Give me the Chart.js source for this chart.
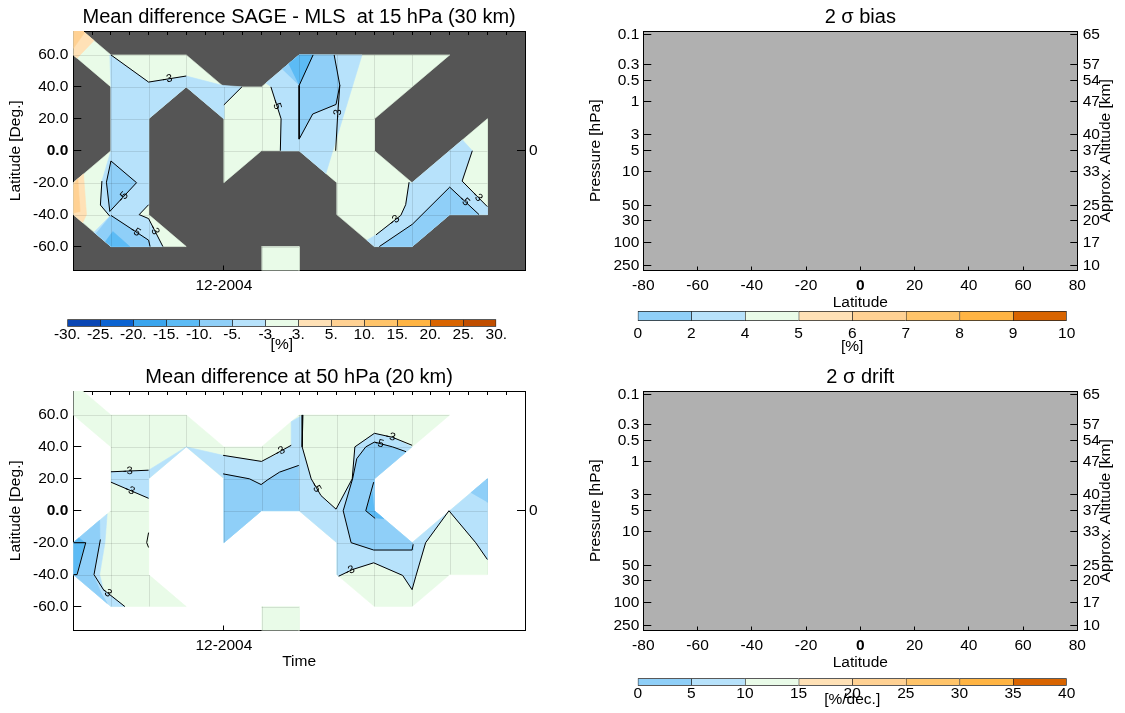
<!DOCTYPE html>
<html>
<head>
<meta charset="utf-8">
<title>SAGE - MLS mean difference</title>
<script src="https://cdn.jsdelivr.net/npm/chart.js@4/dist/chart.umd.min.js"></script>
<style>
  body { margin: 0; background: #fff; width: 1125px; height: 713px; overflow: hidden; position: relative; }
  canvas { position: absolute; }
</style>
</head>
<body>
<canvas id="map15" width="560" height="300" style="left:0px;top:0px"></canvas>
<canvas id="bar15" width="560" height="60" style="left:0px;top:300px"></canvas>
<canvas id="map50" width="560" height="313" style="left:0px;top:360px"></canvas>
<canvas id="bias" width="565" height="315" style="left:560px;top:0px"></canvas>
<canvas id="barBias" width="565" height="60" style="left:560px;top:300px"></canvas>
<canvas id="drift" width="565" height="315" style="left:560px;top:360px"></canvas>
<canvas id="barDrift" width="565" height="48" style="left:560px;top:665px"></canvas>
<script>
// ---- axes ----
// time axis = monthly bins (0..12), only Dec 2004 gets a label
const monthTicks = [4];
const monthLabels = ['12-2004'];
const halfMonthTicks = [0, 0.5, 1, 1.5, 2, 2.5, 3, 3.5, 4, 4.5, 5, 5.5, 6, 6.5, 7, 7.5, 8, 8.5, 9, 9.5, 10, 10.5, 11, 11.5, 12];
const latTicks = [-60, -40, -20, 0, 20, 40, 60];
const latRightTicks = [0];

const latitudeTicks = [-80, -60, -40, -20, 0, 20, 40, 60, 80];
// vertical axis of the sigma panels, positions (~log10 hPa)
const pressureTickPos = [-1.0, -0.56, -0.32, 0.0, 0.5, 0.73, 1.05, 1.56, 1.79, 2.11, 2.46];
const pressureLabels = ['0.1', '0.3', '0.5', '1', '3', '5', '10', '50', '30', '100', '250'];
const altitudeLabels = ['65', '57', '54', '47', '40', '37', '33', '25', '20', '17', '10'];

// colour bar levels
const diffLevels = ['-30.', '-25.', '-20.', '-15.', '-10.', '-5.', '-3', '3.', '5.', '10.', '15.', '20.', '25.', '30.'];
const biasLevels = ['0', '2', '4', '5', '6', '7', '8', '9', '10'];
const driftLevels = ['0', '5', '10', '15', '20', '25', '30', '35', '40'];

// ---- coincidence coverage, [time bin, latitude] (same at both levels) ----
const coverage = [[0, 80], [1, 60], [3, 60], [4, 40], [5, 40], [6, 60], [10, 60], [8, 20], [8, 0], [9, -20], [11, 20], [11, -40],
  [10, -40], [9, -60], [8, -60], [7, -40], [7, -20], [6, 0], [5, 0], [4, -20], [4, 20], [3, 40], [2, 20], [2, -40], [3, -60],
  [1, -60], [0, -40], [0, -20], [1, 0], [1, 40], [0, 60]];
const coverageBox = [[5, -60], [6, -60], [6, -80], [5, -80]];

// ---- 15 hPa mean difference bands (%) ----
const d15Pos3to5 = [
  [[0, 80], [0.55, 69], [0.1, 58], [0, 60]],
  [[0, -20], [0.27, -14.6], [0.35, -40], [0.25, -45], [0, -40]]
];
const d15Pos5to10 = [
  [[0, 80], [0.3, 74], [0, 64]],
  [[0, -22], [0.12, -17.6], [0.18, -38], [0, -39]]
];
const d15Neg3to5 = [
  [[1, 60], [2, 43], [3, 46.8], [3.95, 41], [4.48, 40], [4, 28.7], [4, 20], [3, 40], [2, 20], [2, -33.8], [1.75, -40], [2, -42.5],
    [2.38, -60], [1, -60], [0.55, -51], [0.97, -41], [0.72, -34], [0.76, -19], [1, 0], [1, 40], [0.97, 60]],
  [[5.11, 42.2], [5.72, 54.4], [6, 60], [7.67, 60], [6.71, -14.2], [6, 0], [5.5, 0], [5.52, 20], [5.25, 40]],
  [[9, -20], [10.34, 6.8], [10.6, 0], [10.33, -19], [11, -35], [11, -40], [10, -40], [9, -60], [8, -60], [7.8, -56], [8.04, -52.7],
    [8.7, -40.5], [8.83, -33.8], [8.92, -19.7]]
];
const d15Neg5to10 = [
  [[1, -6.4], [1.68, -20], [0.97, -38], [0.88, -19.7]],
  [[0.6, -52], [1, -40.5], [2, -56], [2.04, -60], [1, -60]],
  [[5.55, 51], [6, 60], [6.93, 60], [7.08, 41], [6.98, 29], [6.36, 23], [6, 7.3], [6, 40.9]],
  [[8.13, -60], [9, -60], [10, -40], [10.78, -40], [10, -22.8], [9.01, -46]]
];
const d15Neg10to15 = [
  [[0.85, -57], [1.05, -50.6], [1.5, -60], [1, -60]],
  [[5.72, 54.4], [6, 60], [6.37, 60], [6, 40.9]]
];
const d15Contours = [
  [[1, 60], [2, 43], [3, 46.8]],
  [[4, 28.7], [4.48, 40]],
  [[1, -6.4], [1.68, -20], [0.97, -38], [0.88, -19.7], [1, -6.4]],
  [[0.76, -19], [0.72, -34], [0.97, -41]],
  [[1, -40.5], [2, -56], [2.04, -60]],
  [[2, -33.8], [1.75, -40], [2, -42.5], [2.38, -60]],
  [[5.25, 40], [5.52, 20], [5.5, 0]],
  [[6.37, 60], [6, 40.9], [6, 7.3], [6.36, 23], [6.98, 29], [7.08, 41]],
  [[6.93, 60], [7.08, 41], [7.02, 21], [6.97, 0]],
  [[8.04, -52.7], [8.7, -40.5], [8.83, -33.8], [8.92, -19.7]],
  [[8.13, -60], [9.01, -46], [10, -22.8], [10.78, -40]],
  [[10.6, 0], [10.33, -19], [11, -35]]
];
// [contour, segment, position on segment, text]
const d15ContourLabels = [[0, 1, 0.5, '-3'], [2, 1, 0.5, '-5'], [4, 0, 0.65, '-5'], [5, 2, 0.4, '-3'], [6, 0, 0.55, '-5'],
  [8, 1, 0.9, '-3'], [9, 0, 0.75, '-3'], [10, 2, 0.5, '-5'], [11, 1, 0.6, '-3']];

// ---- 50 hPa mean difference bands (%) ----
const d50Neg3to5 = [
  [[1, 24.4], [2, 25.4], [3, 40], [2, 20], [2, 7.8], [1, 17.9]],
  [[0, -20], [0.9, -2], [0.84, -20], [0.7, -40], [0.8, -49.4], [1.37, -60], [1, -60], [0, -40]],
  [[3, 40], [3.98, 34.7], [5, 30.9], [5.3, 34], [5.79, 41], [5.79, 55.8], [6.1, 60], [6.08, 40], [6.32, 20], [6.58, 9.5], [6.98, 1],
    [7.41, 20], [7.48, 40], [8, 48.5], [8.48, 46], [9, 40], [8, 20], [8, 0], [9, -20], [11, 20], [11, -30.5], [10.69, -20], [9.98, 0],
    [9.36, -20], [9.1, -41], [9, -49.4], [8.75, -40.5], [7.98, -32.6], [7.42, -36.8], [7.05, -41], [7, -40], [7, -20], [6, 0], [5, 0],
    [4, -20], [4, 20]]
];
const d50Neg5to10 = [
  [[0, -20], [0.7, -6], [0.71, -20], [0.53, -40], [0.75, -52], [0.9, -58], [0, -40]],
  [[3.98, 23.1], [4.68, 20], [4.99, 16.4], [5.17, 19.5], [5.48, 24.2], [5.99, 28.4], [6, 0], [5, 0], [4, -20], [4, 20]],
  [[7.17, 0], [7.42, 20], [7.53, 32.6], [7.77, 40], [8, 43], [8.48, 40], [8.84, 36.8], [8, 20], [8, 0], [9, -20], [9.04, -24.6],
    [7.98, -24.6], [7.38, -20]],
  [[10.56, 11.2], [11, 20], [11, 5.3]]
];
const d50Neg10to15 = [
  [[0, -20], [0.15, -17], [0.31, -20], [0.07, -40.5], [0, -40]],
  [[7.95, 12], [7.78, 0], [8.05, -4.5], [8.25, -5], [8, 0]]
];
const d50Contours = [
  [[1, 24.4], [2, 25.4]],
  [[1, 17.9], [2, 7.8]],
  [[2, -13.7], [1.95, -20], [2, -23]],
  [[0, -20], [0.33, -20], [0.1, -40], [0, -40]],
  [[0.72, -18], [0.55, -40], [0.8, -49.4], [1.37, -60]],
  [[3.98, 34.7], [5, 30.9], [5.25, 34], [5.79, 41]],
  [[3.98, 23.1], [4.68, 20], [4.99, 16.4], [5.17, 19.5], [5.48, 24.2], [5.99, 28.4]],
  [[6.1, 60], [6.08, 40], [6.32, 20], [6.58, 9.5], [6.98, 1], [7.41, 20], [7.48, 40], [8, 48.5], [8.48, 46], [9, 41]],
  [[8.84, 37], [8.48, 40], [8, 43], [7.77, 40], [7.53, 32.6], [7.42, 20], [7.17, 0], [7.38, -20], [7.98, -24.6], [9, -24.6], [9.03, -21]],
  [[7.98, 17.9], [7.77, 0], [8.02, -4.8]],
  [[7.05, -41], [7.42, -36.8], [7.98, -32.6], [8.75, -40.5], [9, -49.4], [9.1, -41], [9.36, -20], [9.98, 0], [10.69, -20], [11, -30.5]]
];
const d50ContourLabels = [[0, 0, 0.45, '-3'], [1, 0, 0.5, '-3'], [4, 2, 0.15, '-3'], [5, 2, 0.45, '-3'], [7, 2, 0.5, '-5'],
  [7, 7, 0.9, '-3'], [8, 1, 0.75, '-5'], [10, 0, 0.8, '-3']];

// ---- colours ----
const GREEN = '#e9fbe8', LBLUE = '#b7e2fb', MBLUE = '#8fcff8', DBLUE = '#5cbbf5';
const ORANGE1 = '#ffe1b6', ORANGE2 = '#ffd193';
const diffColors = ['#0a46b4', '#0b63d1', '#3aa5ee', '#5cbbf5', '#8fcff8', '#b7e2fb', '#e9fbe8', '#ffe1b6', '#ffd193', '#ffc46a', '#ffb443', '#d86400', '#c04e00'];
const sigmaColors = ['#8fcff8', '#b7e2fb', '#e9fbe8', '#ffe1b6', '#ffd193', '#ffc46a', '#ffb443', '#d86400'];
const FONT = '"Liberation Sans", Arial, Helvetica, sans-serif';

Chart.defaults.font.family = FONT;
Chart.defaults.font.size = 15.5;
Chart.defaults.color = '#000';
Chart.defaults.animation = false;
Chart.defaults.responsive = false;
Chart.defaults.devicePixelRatio = 1;
Chart.defaults.events = [];
Chart.defaults.plugins.legend.display = false;
Chart.defaults.plugins.tooltip.enabled = false;

const boldZero = (ctx) => (ctx.tick && ctx.tick.value === 0 ? {weight: 'bold'} : undefined);
const toPoints = (arr) => arr.map(([x, y]) => ({x, y}));

// fills the plot area (missing data colour)
function areaFill(color) {
  return {
    id: 'areaFill',
    beforeDraw(chart) {
      const {ctx, chartArea: a} = chart;
      ctx.save();
      ctx.fillStyle = color;
      ctx.fillRect(a.left, a.top, a.width, a.height);
      ctx.restore();
    }
  };
}

// faint cell edges, only where there is data
function coverageGrid(firstLine) {
  return {
    id: 'coverageGrid',
    beforeDatasetDraw(chart, args) {
      if (args.index !== firstLine) return;
      const {ctx, chartArea: a, scales: {x, y}} = chart;
      ctx.save();
      ctx.beginPath();
      ctx.rect(a.left, a.top, a.width, a.height);
      ctx.clip();
      ctx.beginPath();
      [coverage, coverageBox].forEach(p => p.forEach(([px, py], k) => {
        const X = x.getPixelForValue(px), Y = y.getPixelForValue(py);
        if (k) ctx.lineTo(X, Y); else ctx.moveTo(X, Y);
      }));
      ctx.clip();
      ctx.strokeStyle = 'rgba(0,0,0,0.1)';
      ctx.lineWidth = 1;
      ctx.beginPath();
      for (let i = 1; i < 12; i++) {
        const X = Math.round(x.getPixelForValue(i)) + 0.5;
        ctx.moveTo(X, a.top);
        ctx.lineTo(X, a.bottom);
      }
      latTicks.forEach(v => {
        const Y = Math.round(y.getPixelForValue(v)) + 0.5;
        ctx.moveTo(a.left, Y);
        ctx.lineTo(a.right, Y);
      });
      ctx.stroke();
      ctx.restore();
    }
  };
}

// small labels written along the contour lines
function contourText(contours, labels) {
  return {
    id: 'contourText',
    afterDatasetsDraw(chart) {
      const {ctx, scales: {x, y}} = chart;
      ctx.save();
      ctx.font = '11px ' + FONT;
      ctx.fillStyle = '#000';
      ctx.textAlign = 'center';
      ctx.textBaseline = 'middle';
      labels.forEach(([c, s, t, text]) => {
        const a = contours[c][s], b = contours[c][s + 1];
        const x1 = x.getPixelForValue(a[0]), y1 = y.getPixelForValue(a[1]);
        const x2 = x.getPixelForValue(b[0]), y2 = y.getPixelForValue(b[1]);
        let ang = Math.atan2(y2 - y1, x2 - x1);
        if (ang > Math.PI / 2) ang -= Math.PI;
        if (ang < -Math.PI / 2) ang += Math.PI;
        ctx.save();
        ctx.translate(x1 + (x2 - x1) * t, y1 + (y2 - y1) * t);
        ctx.rotate(ang);
        ctx.fillText(text, 0, 0);
        ctx.restore();
      });
      ctx.restore();
    }
  };
}

// right-hand axis title, reading bottom to top
function sideTitle(text) {
  return {
    id: 'sideTitle',
    afterDraw(chart) {
      const {ctx, chartArea: a} = chart;
      ctx.save();
      ctx.translate(a.right + 28.5, (a.top + a.bottom) / 2);
      ctx.rotate(-Math.PI / 2);
      ctx.font = '15.5px ' + FONT;
      ctx.fillStyle = '#000';
      ctx.textAlign = 'center';
      ctx.textBaseline = 'middle';
      ctx.fillText(text, 0, 0);
      ctx.restore();
    }
  };
}

function mapPanel(id, title, background, layers, contours, labels, withTime) {
  const canvas = document.getElementById(id);
  const datasets = [];
  layers.forEach(([polys, color]) => {
    polys.forEach(p => {
      datasets.push({
        data: toPoints(p), xAxisID: 'x', yAxisID: 'y',
        backgroundColor: color, borderColor: color, borderWidth: 0.6,
        fill: 'shape', pointRadius: 0, order: -datasets.length
      });
    });
  });
  const firstLine = datasets.length;
  contours.forEach(c => {
    datasets.push({
      data: toPoints(c), xAxisID: 'x', yAxisID: 'y',
      borderColor: '#000', borderWidth: 1, fill: false, pointRadius: 0, order: -datasets.length
    });
  });

  return new Chart(canvas, {
    type: 'line',
    data: {datasets},
    options: {
      plugins: {
        title: {display: true, text: title, fullSize: false, font: {size: 20, weight: 'normal'}, padding: {top: 5, bottom: 2}}
      },
      scales: {
        x: {
          type: 'linear', position: 'bottom', min: 0, max: 12, z: 1,
          afterBuildTicks: s => { s.ticks = monthTicks.map(v => ({value: v})); },
          afterFit: s => { s.height = canvas.height - 270.5; },
          ticks: {autoSkip: false, maxRotation: 0, padding: 10.9, callback: (v, i) => monthLabels[i]},
          grid: {drawOnChartArea: false, tickLength: -5, color: '#000'},
          border: {color: '#000'},
          title: {display: withTime, text: 'Time', padding: {top: 0, bottom: 2}}
        },
        xTop: {
          type: 'linear', position: 'top', min: 0, max: 12, z: 1,
          afterBuildTicks: s => { s.ticks = halfMonthTicks.map(v => ({value: v})); },
          afterFit: s => { s.height = 0; },
          ticks: {display: false},
          grid: {drawOnChartArea: false, tickLength: -4, color: '#000'},
          border: {color: '#000'}
        },
        y: {
          type: 'linear', position: 'left', min: -75, max: 75, z: 1,
          afterBuildTicks: s => { s.ticks = latTicks.map(v => ({value: v})); },
          afterFit: s => { s.width = 73.3; },
          ticks: {padding: 13, callback: v => v.toFixed(1), font: boldZero},
          grid: {drawOnChartArea: false, tickLength: -8, color: '#000'},
          border: {color: '#000'},
          title: {display: true, text: 'Latitude [Deg.]', padding: {top: 6.7, bottom: 0}}
        },
        y2: {
          type: 'linear', position: 'right', min: -75, max: 75, z: 1,
          afterBuildTicks: s => { s.ticks = latRightTicks.map(v => ({value: v})); },
          afterFit: s => { s.width = canvas.width - 525; },
          ticks: {padding: 12, callback: v => String(v)},
          grid: {drawOnChartArea: false, tickLength: -8, color: '#000'},
          border: {color: '#000'}
        }
      }
    },
    plugins: [areaFill(background), coverageGrid(firstLine), contourText(contours, labels)]
  });
}

function sigmaPanel(id, title) {
  const canvas = document.getElementById(id);
  return new Chart(canvas, {
    type: 'scatter',
    data: {datasets: []},
    options: {
      plugins: {
        title: {display: true, text: title, fullSize: false, font: {size: 20, weight: 'normal'}, padding: {top: 5, bottom: 2}}
      },
      scales: {
        x: {
          type: 'linear', position: 'bottom', min: -80, max: 80, z: 1,
          afterBuildTicks: s => { s.ticks = latitudeTicks.map(v => ({value: v})); },
          afterFit: s => { s.height = canvas.height - 270.5; },
          ticks: {autoSkip: false, maxRotation: 0, padding: 10.4, font: boldZero},
          grid: {drawOnChartArea: false, tickLength: -4, color: '#000'},
          border: {color: '#000'},
          title: {display: true, text: 'Latitude', padding: {top: 0, bottom: 3}}
        },
        xTop: {
          type: 'linear', position: 'top', min: -80, max: 80, z: 1,
          afterFit: s => { s.height = 0; },
          ticks: {display: false},
          grid: {display: false, drawTicks: false},
          border: {color: '#000'}
        },
        y: {
          type: 'linear', position: 'left', min: -1.06, max: 2.534, reverse: true, z: 1,
          afterBuildTicks: s => { s.ticks = pressureTickPos.map(v => ({value: v})); },
          afterFit: s => { s.width = 83.3; },
          ticks: {autoSkip: false, padding: 12, callback: (v, i) => pressureLabels[i]},
          grid: {drawOnChartArea: false, tickLength: -8, color: '#000'},
          border: {color: '#000'},
          title: {display: true, text: 'Pressure [hPa]', padding: {top: 26.7, bottom: 0}}
        },
        y2: {
          type: 'linear', position: 'right', min: -1.06, max: 2.534, reverse: true, z: 1,
          afterBuildTicks: s => { s.ticks = pressureTickPos.map(v => ({value: v})); },
          afterFit: s => { s.width = canvas.width - 517.3; },
          ticks: {autoSkip: false, padding: 12.4, callback: (v, i) => altitudeLabels[i]},
          grid: {drawOnChartArea: false, tickLength: -7, color: '#000'},
          border: {color: '#000'}
        }
      }
    },
    plugins: [areaFill('#b0b0b0'), sideTitle('Approx. Altitude [km]')]
  });
}

function colorBar(id, levels, colors, unit, box) {
  const n = colors.length;
  return new Chart(document.getElementById(id), {
    type: 'bar',
    data: {
      labels: [''],
      datasets: colors.map((c, i) => ({
        data: [[i, i + 1]], backgroundColor: c, borderColor: '#222',
        borderWidth: {top: 1, bottom: 1, left: 1, right: i === n - 1 ? 1 : 0},
        borderSkipped: false, barPercentage: 1, categoryPercentage: 1, grouped: false
      }))
    },
    options: {
      indexAxis: 'y',
      layout: {padding: {left: box.left, right: box.right, top: box.top, bottom: 0}},
      scales: {
        x: {
          type: 'linear', min: 0, max: n,
          afterBuildTicks: s => { s.ticks = levels.map((_, i) => ({value: i})); },
          afterFit: s => { s.height = box.axisH; },
          ticks: {autoSkip: false, maxRotation: 0, padding: box.tickPad, callback: (v, i) => levels[i]},
          grid: {display: false, drawTicks: false},
          border: {display: false},
          title: {display: true, text: unit, padding: {top: 0, bottom: box.titlePad}}
        },
        y: {display: false}
      }
    }
  });
}

mapPanel('map15', 'Mean difference SAGE - MLS  at 15 hPa (30 km)', '#555555', [
  [[coverage, coverageBox], GREEN],
  [d15Pos3to5, ORANGE1],
  [d15Pos5to10, ORANGE2],
  [d15Neg3to5, LBLUE],
  [d15Neg5to10, MBLUE],
  [d15Neg10to15, DBLUE]
], d15Contours, d15ContourLabels, false);

mapPanel('map50', 'Mean difference at 50 hPa (20 km)', '#ffffff', [
  [[coverage, coverageBox], GREEN],
  [d50Neg3to5, LBLUE],
  [d50Neg5to10, MBLUE],
  [d50Neg10to15, DBLUE]
], d50Contours, d50ContourLabels, true);

sigmaPanel('bias', '2 \u03c3 bias');
sigmaPanel('drift', '2 \u03c3 drift');

colorBar('bar15', diffLevels, diffColors, '[%]', {left: 67.3, right: 63.7, top: 19.3, axisH: 33.3, tickPad: -1, titlePad: 5.7});
colorBar('barBias', biasLevels, sigmaColors, '[%]', {left: 77.7, right: 58.3, top: 11, axisH: 39, tickPad: 3, titlePad: 4});
colorBar('barDrift', driftLevels, sigmaColors, '[%/dec.]', {left: 77.7, right: 58.3, top: 13.3, axisH: 27.3, tickPad: -1.7, titlePad: 3.7});
</script>
</body>
</html>
